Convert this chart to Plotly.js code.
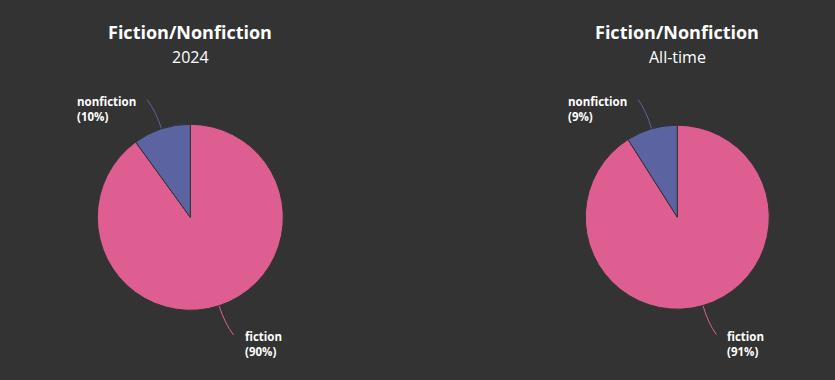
<!DOCTYPE html>
<html>
<head>
<meta charset="utf-8">
<script src="https://cdn.plot.ly/plotly-3.0.1.min.js"></script>
<style>
  html, body { margin: 0; padding: 0; background: #333333; }
  #chart { width: 835px; height: 380px; }
</style>
</head>
<body>
<div id="chart"></div>
<script>
// ---- data ----
const categories = ['fiction', 'nonfiction'];
const values2024 = [90, 10];
const valuesAllTime = [91, 9];
const chartTitles = ['Fiction/Nonfiction', 'Fiction/Nonfiction'];
const chartSubtitles = ['2024', 'All-time'];
const sliceColors = ['#de5e92', '#5b64a0'];

// ---- layout geometry (pixels) ----
const W = 835, H = 380;
const FONT = 'Open Sans, Inter, sans-serif';
const pies = [
  { values: values2024, cx: 190.3, cy: 217.3, r: 93, title: chartTitles[0], sub: chartSubtitles[0] },
  { values: valuesAllTime, cx: 677.3, cy: 217.2, r: 92, title: chartTitles[1], sub: chartSubtitles[1] }
];

const px = x => x / W;
const py = y => 1 - y / H;

const data = [];
const shapes = [];
const annotations = [];

pies.forEach((p, idx) => {
  const halfW = 150;
  data.push({
    type: 'pie',
    labels: categories,
    values: p.values,
    sort: false,
    direction: 'clockwise',
    rotation: 0,
    textinfo: 'none',
    hoverinfo: 'label+percent',
    marker: { colors: sliceColors, line: { color: '#333333', width: 1 } },
    domain: {
      x: [px(p.cx - halfW), px(p.cx + halfW)],
      y: [py(p.cy + p.r), py(p.cy - p.r)]
    },
    showlegend: false
  });

  // titles
  annotations.push({
    xref: 'paper', yref: 'paper', x: px(p.cx), y: py(32), xanchor: 'center', yanchor: 'middle',
    text: '<b>' + p.title + '</b>', showarrow: false,
    font: { family: FONT, size: 18, color: '#ffffff' }
  });
  annotations.push({
    xref: 'paper', yref: 'paper', x: px(p.cx), y: py(57), xanchor: 'center', yanchor: 'middle',
    text: p.sub, showarrow: false,
    font: { family: FONT, size: 16, color: '#ffffff' }
  });

  // leader lines + labels computed from the slice angles
  const total = p.values.reduce((a, b) => a + b, 0);
  let cum = 0;
  p.values.forEach((v, i) => {
    const mid = (cum + v / 2) / total * 2 * Math.PI; // clockwise from 12 o'clock
    cum += v;
    const dx = Math.sin(mid), dy = -Math.cos(mid);
    const side = dx >= 0 ? 1 : -1;
    const E = [p.cx + p.r * dx, p.cy + p.r * dy];
    const C = [p.cx + p.r * 1.2 * dx, p.cy + p.r * 1.2 * dy];
    const L = [p.cx + p.r * 1.33 * dx + side * 5, p.cy + p.r * 1.33 * dy];
    shapes.push({
      type: 'path', xref: 'paper', yref: 'paper',
      path: 'M ' + px(E[0]) + ',' + py(E[1]) + ' Q ' + px(C[0]) + ',' + py(C[1]) + ' ' + px(L[0]) + ',' + py(L[1]),
      line: { color: sliceColors[i], width: 1 },
      layer: 'below'
    });
    const pct = Math.round(v / total * 100);
    annotations.push({
      xref: 'paper', yref: 'paper',
      x: px(L[0] + side * 9), y: py(L[1] + 9.5),
      xanchor: side > 0 ? 'left' : 'right', yanchor: 'middle', align: 'left',
      text: '<b>' + categories[i] + '<br>(' + pct + '%)</b>', showarrow: false,
      font: { family: FONT, size: 11.5, color: '#ffffff' }
    });
  });
});

const layout = {
  width: W, height: H,
  margin: { l: 0, r: 0, t: 0, b: 0 },
  paper_bgcolor: '#333333',
  plot_bgcolor: '#333333',
  shapes: shapes,
  annotations: annotations,
  showlegend: false
};

Plotly.newPlot('chart', data, layout, { displayModeBar: false, staticPlot: true });
</script>
</body>
</html>
